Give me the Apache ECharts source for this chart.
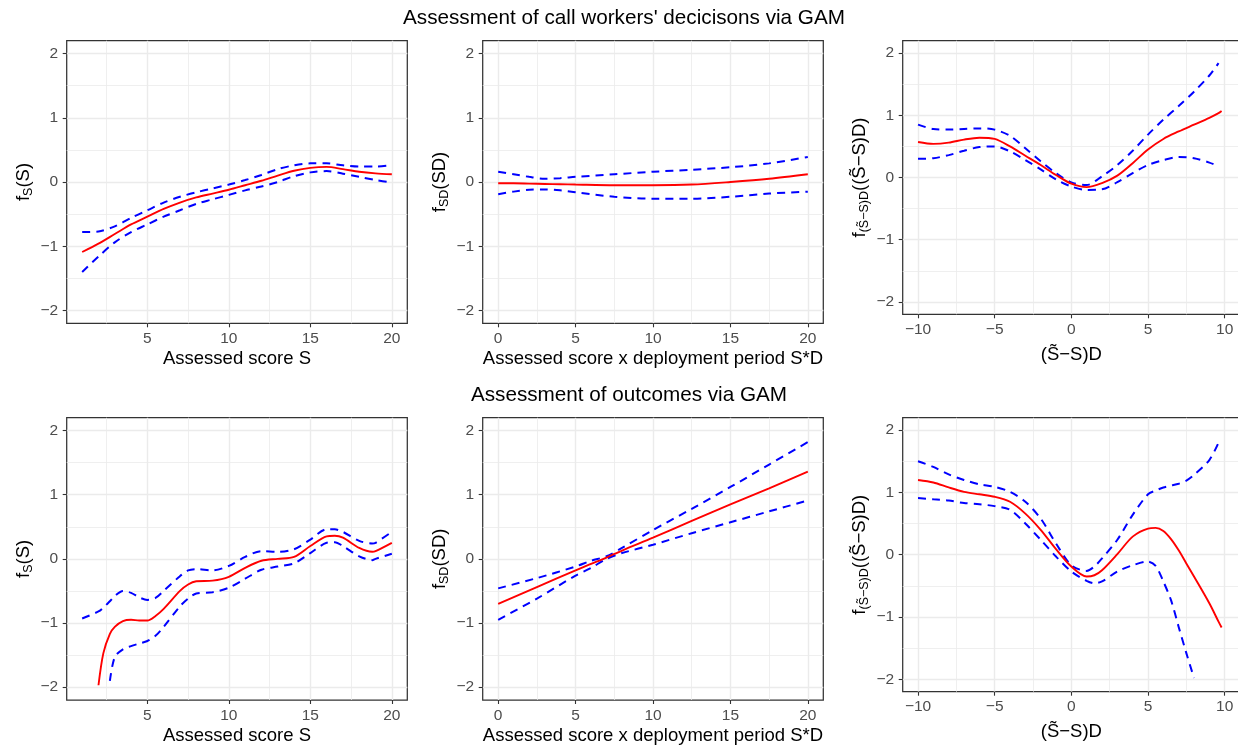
<!DOCTYPE html>
<html>
<head>
<meta charset="utf-8">
<script src="https://cdn.jsdelivr.net/npm/echarts@6/dist/echarts.min.js"></script>
<style>
  html, body { margin: 0; padding: 0; background: #ffffff; }
  #chart { width: 1238px; height: 749px; }
</style>
</head>
<body>
<div id="chart"></div>
<script>
// ---- Row titles ----
const titleTop = "Assessment of call workers' decicisons via GAM";
const titleBottom = 'Assessment of outcomes via GAM';

// ---- Axis titles ----
const xNameS = 'Assessed score S';
const xNameSD = 'Assessed score x deployment period S*D';
const xNameDiff = '(S\u0303\u2212S)D';
const yNameS = '{m|f}{s|S}{m|(S)}';
const yNameSD = '{m|f}{s|SD}{m|(SD)}';
const yNameDiff = '{m|f}{s|(S\u0303\u2212S)D}{m|((S\u0303\u2212S)D)}';

// ---- Tick positions ----
const yTicks = [-2, -1, 0, 1, 2];
const yMinor = [-1.5, -0.5, 0.5, 1.5];
const xTicksS = [5, 10, 15, 20];
const xMinorS = [2.5, 7.5, 12.5, 17.5];
const xTicksSD = [0, 5, 10, 15, 20];
const xMinorSD = [2.5, 7.5, 12.5, 17.5];
const xTicksDiff = [-10, -5, 0, 5, 10];
const xMinorDiff = [-7.5, -2.5, 2.5, 7.5];

// ---- Decisions: smooth of S ----
const decS_x     = [1, 2, 3, 4, 5, 6, 7, 8, 9, 10, 11, 12, 13, 14, 15, 16, 17, 18, 19, 20];
const decS_fit   = [-1.09, -0.96, -0.81, -0.66, -0.54, -0.42, -0.32, -0.24, -0.18, -0.12, -0.05, 0.02, 0.10, 0.175, 0.22, 0.235, 0.20, 0.16, 0.135, 0.12];
const decS_upper = [-0.78, -0.77, -0.69, -0.56, -0.44, -0.32, -0.23, -0.16, -0.10, -0.04, 0.03, 0.11, 0.20, 0.26, 0.29, 0.29, 0.26, 0.24, 0.24, 0.26];
const decS_lower = [-1.40, -1.16, -0.94, -0.78, -0.66, -0.54, -0.44, -0.34, -0.27, -0.20, -0.13, -0.07, 0.00, 0.09, 0.15, 0.17, 0.13, 0.08, 0.03, -0.01];

// ---- Decisions: smooth of S*D ----
const decSD_x     = [0, 1, 2, 3, 4, 5, 7.5, 10, 12.5, 15, 17.5, 20];
const decSD_fit   = [-0.02, -0.02, -0.025, -0.03, -0.035, -0.04, -0.05, -0.05, -0.04, 0.0, 0.05, 0.12];
const decSD_upper = [0.16, 0.12, 0.08, 0.05, 0.06, 0.08, 0.12, 0.16, 0.19, 0.23, 0.29, 0.39];
const decSD_lower = [-0.19, -0.15, -0.12, -0.115, -0.13, -0.16, -0.23, -0.26, -0.26, -0.23, -0.18, -0.15];

// ---- Decisions: smooth of (S~ - S)D ----
const decDiff_x     = [-10, -9, -8, -7, -6, -5, -4, -3, -2, -1, 0, 1, 2, 3, 4, 5, 6, 7, 8, 9, 9.6, 9.8];
const decDiff_fit   = [0.57, 0.54, 0.56, 0.61, 0.64, 0.62, 0.50, 0.35, 0.20, 0.04, -0.10, -0.155, -0.09, 0.03, 0.23, 0.45, 0.62, 0.74, 0.85, 0.96, 1.035, 1.07];
const decDiff_upper = [0.85, 0.78, 0.77, 0.78, 0.79, 0.77, 0.67, 0.47, 0.26, 0.07, -0.08, -0.12, 0.02, 0.20, 0.43, 0.69, 0.93, 1.15, 1.38, 1.64, 1.84, null];
const decDiff_lower = [0.30, 0.31, 0.36, 0.43, 0.49, 0.50, 0.42, 0.28, 0.13, -0.03, -0.145, -0.20, -0.19, -0.075, 0.07, 0.20, 0.28, 0.33, 0.31, 0.24, 0.18, null];

// ---- Outcomes: smooth of S ----
const outS_x     = [1, 2, 2.3, 2.7, 3, 3.5, 4, 4.5, 5, 5.5, 6, 7, 7.5, 8, 9, 10, 11, 12, 13, 14, 15, 16, 16.5, 17, 18, 18.8, 19, 20];
const outS_fit   = [null, -1.97, -1.47, -1.17, -1.06, -0.97, -0.95, -0.96, -0.96, -0.89, -0.78, -0.50, -0.40, -0.35, -0.34, -0.28, -0.14, -0.03, 0.0, 0.03, 0.20, 0.35, 0.36, 0.33, 0.17, 0.11, 0.12, 0.25];
const outS_upper = [-0.93, -0.82, -0.76, -0.66, -0.58, -0.50, -0.53, -0.60, -0.64, -0.61, -0.50, -0.27, -0.18, -0.16, -0.18, -0.11, 0.03, 0.12, 0.11, 0.15, 0.30, 0.46, 0.46, 0.42, 0.28, 0.24, 0.25, 0.42];
const outS_lower = [null, null, null, -1.90, -1.53, -1.41, -1.36, -1.32, -1.28, -1.20, -1.06, -0.74, -0.62, -0.54, -0.52, -0.45, -0.31, -0.17, -0.12, -0.07, 0.09, 0.25, 0.26, 0.20, 0.04, -0.02, 0.0, 0.08];

// ---- Outcomes: smooth of S*D ----
const outSD_x     = [0, 2.5, 5, 6, 7, 8, 10, 12.5, 15, 17.5, 20];
const outSD_fit   = [-0.70, -0.44, -0.18, -0.08, 0.02, 0.13, 0.33, 0.59, 0.85, 1.10, 1.36];
const outSD_upper = [-0.46, -0.30, -0.12, -0.03, 0.04, 0.17, 0.45, 0.78, 1.12, 1.47, 1.82];
const outSD_lower = [-0.95, -0.62, -0.26, -0.14, 0.0, 0.09, 0.22, 0.40, 0.57, 0.74, 0.91];

// ---- Outcomes: smooth of (S~ - S)D ----
const outDiff_x     = [-10, -9, -8, -7, -6, -5, -4, -3, -2, -1, 0, 1, 1.5, 2, 3, 4, 5, 5.5, 6, 6.5, 7, 7.5, 8, 9, 9.6, 9.8];
const outDiff_fit   = [1.20, 1.16, 1.08, 1.01, 0.97, 0.93, 0.85, 0.66, 0.40, 0.09, -0.19, -0.35, -0.33, -0.25, 0.01, 0.29, 0.42, 0.43, 0.38, 0.25, 0.07, -0.14, -0.35, -0.78, -1.075, -1.17];
const outDiff_upper = [1.50, 1.41, 1.29, 1.20, 1.13, 1.09, 1.01, 0.85, 0.58, 0.18, -0.17, -0.26, -0.19, -0.06, 0.24, 0.64, 0.97, 1.03, 1.08, 1.11, 1.14, 1.19, 1.28, 1.52, 1.80, null];
const outDiff_lower = [0.91, 0.89, 0.87, 0.83, 0.81, 0.78, 0.72, 0.50, 0.24, -0.03, -0.27, -0.42, -0.46, -0.43, -0.27, -0.17, -0.11, -0.18, -0.43, -0.73, -1.16, -1.58, -1.98, null, null, null];

// ---- Styling ----
const FONT = '"Liberation Sans", Arial, Helvetica, sans-serif';
const TICK_COLOR = '#4D4D4D';
const BORDER = '#333333';
const GRID_COLOR = '#EBEBEB';
const FIT_COLOR = '#FF0000';
const BAND_COLOR = '#0000FF';

// Panel layout (pixels) and per-panel scales
const panels = [
  { rect: [66.7, 40.7, 340.6, 282.6], xr: [0.05, 20.95], xt: xTicksS, xm: xMinorS, xn: xNameS, xg: 26.5, yn: yNameS,
    x: decS_x, fit: decS_fit, up: decS_upper, lo: decS_lower },
  { rect: [482.7, 40.7, 340.6, 282.6], xr: [-1, 21], xt: xTicksSD, xm: xMinorSD, xn: xNameSD, xg: 26.5, yn: yNameSD,
    x: decSD_x, fit: decSD_fit, up: decSD_upper, lo: decSD_lower },
  { rect: [902.7, 40.7, 337.3, 273.6], xr: [-11, 11], xt: xTicksDiff, xm: xMinorDiff, xn: xNameDiff, xg: 31, yn: yNameDiff,
    x: decDiff_x, fit: decDiff_fit, up: decDiff_upper, lo: decDiff_lower },
  { rect: [66.7, 417.7, 340.6, 282.3], xr: [0.05, 20.95], xt: xTicksS, xm: xMinorS, xn: xNameS, xg: 26.5, yn: yNameS,
    x: outS_x, fit: outS_fit, up: outS_upper, lo: outS_lower },
  { rect: [482.7, 417.7, 340.6, 282.3], xr: [-1, 21], xt: xTicksSD, xm: xMinorSD, xn: xNameSD, xg: 26.5, yn: yNameSD,
    x: outSD_x, fit: outSD_fit, up: outSD_upper, lo: outSD_lower },
  { rect: [902.7, 417.7, 337.3, 274.0], xr: [-11, 11], xt: xTicksDiff, xm: xMinorDiff, xn: xNameDiff, xg: 31, yn: yNameDiff,
    x: outDiff_x, fit: outDiff_fit, up: outDiff_upper, lo: outDiff_lower }
];

const minusFmt = v => String(v).replace('-', '\u2212');

const grids = [], xAxes = [], yAxes = [], series = [];

panels.forEach((p, i) => {
  grids.push({
    left: p.rect[0], top: p.rect[1], width: p.rect[2], height: p.rect[3],
    show: true, borderColor: BORDER, borderWidth: 1.25, backgroundColor: 'transparent',
    containLabel: false, outerBoundsMode: 'none'
  });

  // major x axis: ticks, labels, major grid lines, title
  xAxes.push({
    type: 'value', gridIndex: i, position: 'bottom', min: p.xr[0], max: p.xr[1],
    axisLine: { show: false, onZero: false },
    axisTick: { show: true, inside: false, length: 4, lineStyle: { color: BORDER, width: 1.1 }, customValues: p.xt },
    axisLabel: { customValues: p.xt, formatter: minusFmt, color: TICK_COLOR, fontSize: 15.5, fontFamily: FONT, margin: 7.5 },
    splitLine: { show: true, lineStyle: { color: GRID_COLOR, width: 1.4 } },
    name: p.xn, nameLocation: 'middle', nameGap: p.xg, nameMoveOverlap: false,
    nameTextStyle: { color: '#000000', fontSize: 18.5, fontFamily: FONT }
  });
  // minor x grid lines
  xAxes.push({
    type: 'value', gridIndex: i, position: 'top', min: p.xr[0], max: p.xr[1],
    axisLine: { show: false, onZero: false },
    axisTick: { show: false, customValues: p.xm },
    axisLabel: { show: false, customValues: p.xm },
    splitLine: { show: true, lineStyle: { color: GRID_COLOR, width: 0.8 } }
  });

  // major y axis
  yAxes.push({
    type: 'value', gridIndex: i, position: 'left', min: -2.2, max: 2.2,
    axisLine: { show: false, onZero: false },
    axisTick: { show: true, inside: false, length: 4, lineStyle: { color: BORDER, width: 1.1 }, customValues: yTicks },
    axisLabel: { customValues: yTicks, formatter: minusFmt, color: TICK_COLOR, fontSize: 15.5, fontFamily: FONT, margin: 8.5 },
    splitLine: { show: true, lineStyle: { color: GRID_COLOR, width: 1.4 } },
    name: p.yn, nameLocation: 'middle', nameGap: 32, nameMoveOverlap: false,
    nameTextStyle: {
      color: '#000000', fontFamily: FONT,
      rich: {
        m: { fontSize: 18.5, lineHeight: 22, fontFamily: FONT, color: '#000000' },
        s: { fontSize: 12.5, lineHeight: 14, verticalAlign: 'bottom', fontFamily: FONT, color: '#000000' }
      }
    }
  });
  // minor y grid lines
  yAxes.push({
    type: 'value', gridIndex: i, position: 'right', min: -2.2, max: 2.2,
    axisLine: { show: false, onZero: false },
    axisTick: { show: false, customValues: yMinor },
    axisLabel: { show: false, customValues: yMinor },
    splitLine: { show: true, lineStyle: { color: GRID_COLOR, width: 0.8 } }
  });

  const toPairs = ys => p.x.map((x, k) => [x, ys[k]]);
  const base = { type: 'line', xAxisIndex: 2 * i, yAxisIndex: 2 * i, showSymbol: false, symbol: 'none',
                 smooth: 0.3, clip: true, silent: true };
  series.push(Object.assign({}, base, { name: 'upper', data: toPairs(p.up),
    lineStyle: { color: BAND_COLOR, width: 2, type: [8, 6] } }));
  series.push(Object.assign({}, base, { name: 'lower', data: toPairs(p.lo),
    lineStyle: { color: BAND_COLOR, width: 2, type: [8, 6] } }));
  series.push(Object.assign({}, base, { name: 'fit', data: toPairs(p.fit),
    lineStyle: { color: FIT_COLOR, width: 1.9 } }));
});

const chart = echarts.init(document.getElementById('chart'), null, { renderer: 'canvas' });
chart.setOption({
  animation: false,
  backgroundColor: '#ffffff',
  grid: grids,
  xAxis: xAxes,
  yAxis: yAxes,
  series: series,
  graphic: [
    { type: 'text', x: 624, y: 18.5, silent: true,
      style: { text: titleTop, font: '20.7px ' + FONT, fill: '#000000', textAlign: 'center', textVerticalAlign: 'middle' } },
    { type: 'text', x: 629, y: 395.5, silent: true,
      style: { text: titleBottom, font: '20.7px ' + FONT, fill: '#000000', textAlign: 'center', textVerticalAlign: 'middle' } }
  ]
});
</script>
</body>
</html>
